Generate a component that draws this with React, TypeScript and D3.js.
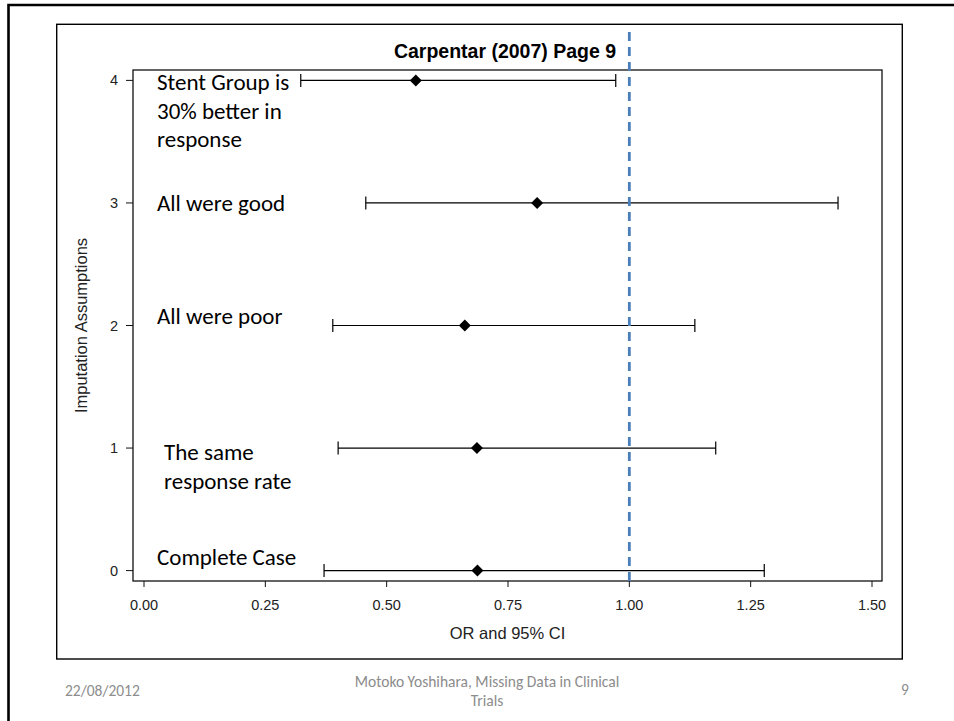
import React from 'react';
import * as d3 from 'd3';

// imputation scenarios (y position 0..4)
const rows = [0, 1, 2, 3, 4];
const estimates = [0.687, 0.686, 0.661, 0.81, 0.56];
const lowers = [0.371, 0.4, 0.389, 0.457, 0.323];
const uppers = [1.278, 1.178, 1.135, 1.43, 0.972];
const rowLabels = [
  ['Complete Case'],
  ['The same', 'response rate'],
  ['All were poor'],
  ['All were good'],
  ['Stent Group is', '30% better in', 'response'],
];
const xTicks = [0, 0.25, 0.5, 0.75, 1, 1.25, 1.5];
const refValue = 1;

const title = 'Carpentar (2007) Page 9';
const xTitle = 'OR and 95% CI';
const yTitle = 'Imputation Assumptions';
const footDate = '22/08/2012';
const footCenter = ['Motoko Yoshihara, Missing Data in Clinical', 'Trials'];
const footPage = '9';

// text placement for the slide annotations (offset from the row centre)
const labelPos = [
  { dx: 157, dy: -6 },
  { dx: 164, dy: 12 },
  { dx: 157, dy: -2 },
  { dx: 157, dy: 8 },
  { dx: 157, dy: 10 },
];

const W = 954;
const H = 721;
const plot = { left: 133, top: 70, right: 882, bottom: 581 };

const sasFont = '"Liberation Sans", Arial, sans-serif';
const slideFont = 'Carlito, Calibri, Lato, "Open Sans", sans-serif';

export default function App() {
  const x = d3.scaleLinear().domain([0, 1.5]).range([144, 872]);
  const y = d3.scaleLinear().domain([0, 4]).range([570.6, 80.4]);
  const diamond = d3.symbol(d3.symbolSquare, 72)()!;
  const cap = 6.5;

  return (
    <svg
      width={W}
      height={H}
      style={{ position: 'absolute', left: 0, top: 0, background: '#fff' }}
    >
      {/* slide frame */}
      <path d={`M8.5,${H + 5} V5 H${W + 5}`} fill="none" stroke="#000" strokeWidth={2.6} />

      {/* graph box */}
      <rect x={56.7} y={24.3} width={845.6} height={634.7} fill="none" stroke="#000" strokeWidth={1.4} />

      {/* plot area */}
      <rect
        x={plot.left}
        y={plot.top}
        width={plot.right - plot.left}
        height={plot.bottom - plot.top}
        fill="none"
        stroke="#111"
        strokeWidth={1.3}
      />

      <text
        x={505}
        y={58}
        textAnchor="middle"
        fontFamily={sasFont}
        fontWeight="bold"
        fontSize={19.5}
        fill="#000"
      >
        {title}
      </text>

      {/* x axis */}
      {xTicks.map((t) => (
        <g key={t}>
          <line x1={x(t)} x2={x(t)} y1={plot.bottom} y2={plot.bottom + 6} stroke="#111" strokeWidth={1} />
          <text
            x={x(t)}
            y={610}
            textAnchor="middle"
            fontFamily={sasFont}
            fontSize={14.5}
            fill="#222"
          >
            {d3.format('.2f')(t)}
          </text>
        </g>
      ))}
      <text
        x={(plot.left + plot.right) / 2}
        y={639}
        textAnchor="middle"
        fontFamily={sasFont}
        fontSize={16.5}
        fill="#222"
      >
        {xTitle}
      </text>

      {/* y axis */}
      {rows.map((r) => (
        <g key={r}>
          <line x1={plot.left - 7} x2={plot.left} y1={y(r)} y2={y(r)} stroke="#111" strokeWidth={1} />
          <text
            x={118}
            y={y(r) + 5}
            textAnchor="end"
            fontFamily={sasFont}
            fontSize={14.5}
            fill="#222"
          >
            {r}
          </text>
        </g>
      ))}
      <text
        transform={`translate(87,${(plot.top + plot.bottom) / 2}) rotate(-90)`}
        textAnchor="middle"
        fontFamily={sasFont}
        fontSize={16.5}
        fill="#222"
      >
        {yTitle}
      </text>

      {/* error bars */}
      {rows.map((r, i) => (
        <g key={r} stroke="#000" strokeWidth={1.2}>
          <line x1={x(lowers[i])} x2={x(uppers[i])} y1={y(r)} y2={y(r)} />
          <line x1={x(lowers[i])} x2={x(lowers[i])} y1={y(r) - cap} y2={y(r) + cap} />
          <line x1={x(uppers[i])} x2={x(uppers[i])} y1={y(r) - cap} y2={y(r) + cap} />
          <path
            d={diamond}
            transform={`translate(${x(estimates[i])},${y(r)}) rotate(45)`}
            fill="#000"
            stroke="none"
          />
        </g>
      ))}

      {/* reference line at OR = 1 */}
      <line
        x1={x(refValue)}
        x2={x(refValue)}
        y1={32}
        y2={583}
        stroke="#4a7ebb"
        strokeWidth={2.8}
        strokeDasharray="9,6"
      />

      {/* slide annotations */}
      {rows.map((r, i) => (
        <text key={r} fontFamily={slideFont} fontSize={23} fill="#000">
          {rowLabels[i].map((line, j) => (
            <tspan key={j} x={labelPos[i].dx} y={y(r) + labelPos[i].dy + j * 28.5}>
              {line}
            </tspan>
          ))}
        </text>
      ))}

      {/* footer */}
      <text x={65} y={696} fontFamily={slideFont} fontSize={15.5} fill="#8c8c8c">
        {footDate}
      </text>
      <text textAnchor="middle" fontFamily={slideFont} fontSize={15.5} fill="#8c8c8c">
        {footCenter.map((line, j) => (
          <tspan key={j} x={487} y={686.5 + j * 19}>
            {line}
          </tspan>
        ))}
      </text>
      <text x={905} y={695} textAnchor="middle" fontFamily={slideFont} fontSize={15.5} fill="#8c8c8c">
        {footPage}
      </text>
    </svg>
  );
}
